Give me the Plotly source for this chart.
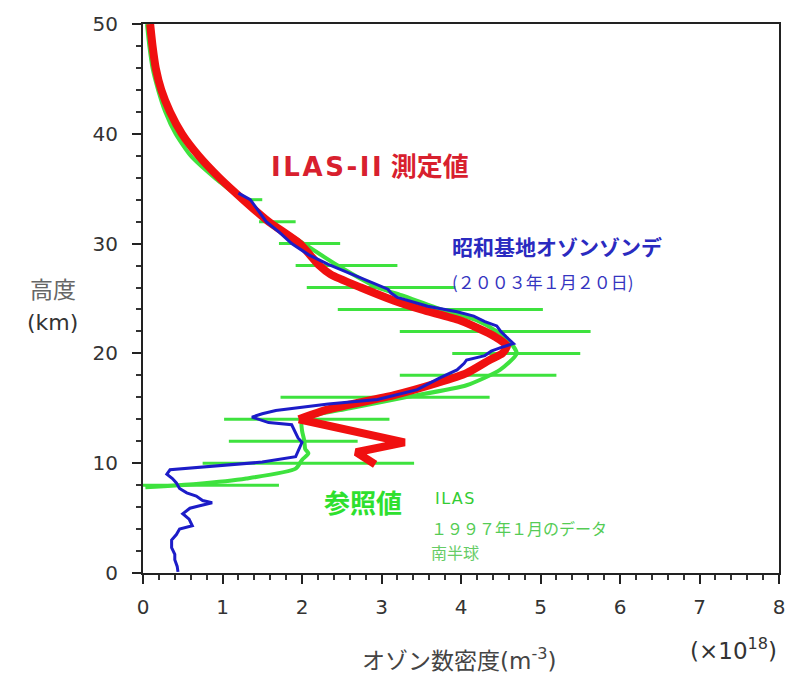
import plotly.graph_objects as go

# ---------------- data ----------------
# ILAS-II measured profile (x: 1e18 m^-3, y: km) - smooth upper part
red_alt = [50, 48, 46, 44, 42, 40, 38, 36, 34, 32, 30, 28, 27.2, 26, 24.8, 24, 23, 22, 21.5, 20.7, 20, 19.4,
           18.2, 17.3, 16.2, 14.9, 14.0]
red_val = [0.09, 0.12, 0.16, 0.23, 0.34, 0.49, 0.70, 0.96, 1.26, 1.58, 1.97, 2.22, 2.36, 2.74, 3.16, 3.5, 3.99,
           4.3, 4.43, 4.58, 4.52, 4.36, 4.07, 3.70, 3.16, 2.33, 1.96]
# ILAS-II lower zigzag
red_low_alt = [14.0, 11.9, 11.0, 9.9]
red_low_val = [1.96, 3.29, 2.68, 2.92]

# Syowa ozonesonde (2003-01-20)
blue_alt = [34.6, 34, 33, 32, 31, 30, 29, 28.1, 27, 26.2, 26.0, 25.85, 25.5, 25.1, 24.3, 23.8, 23.4, 22.9, 22.5,
            22.0, 21.5, 20.9, 20.5, 20.2, 19.8, 19.4, 19.1, 18.5, 17.8, 16.7, 15.8, 15.4, 14.8, 14.5, 14.2,
            13.7, 13.5, 12.8, 12.3, 11.9, 11.3, 10.6, 10.1, 9.7, 9.4, 9.0, 8.6, 8.2, 7.7, 7.3, 7.0, 6.6, 6.4,
            6.1, 5.9, 5.4, 4.9, 4.3, 4.0, 3.5, 3.0, 2.3, 1.7, 1.2, 0.6, 0.1]
blue_val = [1.20, 1.35, 1.45, 1.55, 1.72, 1.87, 2.08, 2.33, 2.70, 2.96, 3.02, 3.08, 3.12, 3.20, 3.58, 3.95,
            4.16, 4.30, 4.45, 4.50, 4.57, 4.66, 4.49, 4.38, 4.30, 4.07, 4.04, 3.95, 3.74, 3.45, 2.95, 2.33,
            1.67, 1.50, 1.37, 1.58, 1.87, 1.92, 1.95, 2.00, 1.96, 1.92, 1.50, 0.87, 0.34, 0.30, 0.37, 0.42,
            0.46, 0.55, 0.67, 0.75, 0.87, 0.70, 0.59, 0.50, 0.58, 0.62, 0.46, 0.42, 0.36, 0.36, 0.40, 0.40,
            0.43, 0.44]

# ILAS reference (1997-01, southern hemisphere)
green_alt = [50, 48, 46, 44, 42, 40, 38, 36, 34, 32, 30, 28, 26, 25.3, 24, 23, 22, 21, 20, 18.5, 17.1, 16,
             15, 14, 13, 12, 11.3, 10.9, 10.3, 9.5, 8.6, 8.1, 7.8]
green_val = [0.05, 0.08, 0.12, 0.19, 0.28, 0.41, 0.60, 0.90, 1.25, 1.60, 2.02, 2.45, 2.95, 3.25, 3.75, 4.20,
             4.45, 4.62, 4.70, 4.49, 4.07, 3.30, 2.60, 2.00, 2.00, 2.03, 2.04, 2.08, 2.00, 1.92, 1.30, 0.67, 0.03]

# reference uncertainty ranges
bar_alt = [34, 32, 30, 28, 26, 24, 22, 20, 18, 16, 14, 12, 10, 8]
bar_lo = [1.33, 1.46, 1.71, 1.92, 2.06, 2.45, 3.23, 3.89, 3.23, 1.73, 1.02, 1.08, 0.75, 0.0]
bar_hi = [1.50, 1.92, 2.48, 3.20, 3.93, 5.03, 5.63, 5.50, 5.20, 4.36, 3.10, 2.70, 3.41, 1.71]

x_ticks = [0, 1, 2, 3, 4, 5, 6, 7, 8]
y_ticks = [0, 10, 20, 30, 40, 50]

# ---------------- figure ----------------
GREEN = "#3ee23e"
RED = "#f01010"
BLUE = "#1c1cc8"
CJK = "Noto Sans CJK JP"
MIX = "DejaVu Sans, Noto Sans CJK JP"

bx, by = [], []
for a, lo, hi in zip(bar_alt, bar_lo, bar_hi):
    bx += [lo, hi, None]
    by += [a, a, None]

fig = go.Figure()
fig.add_trace(go.Scatter(x=bx, y=by, mode="lines", line=dict(color=GREEN, width=3), hoverinfo="skip"))
fig.add_trace(go.Scatter(x=green_val, y=green_alt, mode="lines",
                         line=dict(color=GREEN, width=4, shape="spline", smoothing=0.6)))
fig.add_trace(go.Scatter(x=red_val, y=red_alt, mode="lines",
                         line=dict(color=RED, width=8, shape="spline", smoothing=0.6)))
fig.add_trace(go.Scatter(x=red_low_val, y=red_low_alt, mode="lines", line=dict(color=RED, width=8)))
fig.add_trace(go.Scatter(x=blue_val, y=blue_alt, mode="lines", line=dict(color=BLUE, width=3)))

axis_common = dict(showgrid=False, zeroline=False, showline=True, linecolor="#222", linewidth=2,
                   mirror=True, ticks="outside", tickcolor="#222", tickwidth=2, ticklen=9,
                   tickfont=dict(family="DejaVu Sans", size=20, color="#333"))
fig.update_xaxes(range=[0, 8], tickvals=x_ticks, ticktext=[str(v) for v in x_ticks], ticklabelstandoff=6,
                 minor=dict(dtick=0.2, ticks="outside", ticklen=5, tickwidth=1.5, tickcolor="#333"),
                 **axis_common)
fig.update_yaxes(range=[0, 50], tickvals=y_ticks, ticktext=[str(v) for v in y_ticks], ticklabelstandoff=10,
                 minor=dict(dtick=2, ticks="outside", ticklen=5, tickwidth=1.5, tickcolor="#333"),
                 **axis_common)

ann = []
def add(text, x, y, size, color, xanchor="left", bold=False, family=CJK):
    t = f"<b>{text}</b>" if bold else text
    ann.append(dict(text=t, x=x, y=y, xref="paper", yref="paper", xanchor=xanchor, yanchor="middle",
                    showarrow=False, font=dict(family=family, size=size, color=color)))

W, H = 797, 678
L, R, T, B = 143, 12, 15, 105
pw, ph = W - L - R, H - T - B
def px(xp):
    return (xp - L) / pw
def py(yp):
    return (H - B - yp) / ph

hs = "\u200a"
add(hs.join("ILAS-II") + " 測定値", px(270), py(160), 26, "#d8202e", "left", True, MIX)
add("昭和基地オゾンゾンデ", px(453), py(241), 21, "#2a2ac0", "left", True)
add("(２００３年１月２０日)", px(453), py(277), 17, "#3535c0", "left", False)
add("参照値", px(324), py(500), 26, "#2ee02e", "left", True)
add(hs.join("ILAS"), px(436), py(497), 16, "#33cc33", "left", False, MIX)
add("１９９７年１月のデータ", px(432), py(527), 16, "#55cc55", "left", False)
add("南半球", px(432), py(552), 16, "#66cc66", "left", False)
add("高度", px(52), py(283), 23, "#666", "center")
add("(km)", px(52), py(318), 22, "#333", "center", False, "DejaVu Sans")
add("オゾン数密度(m<sup>-3</sup>)", px(462), py(660), 23, "#444", "center", False, MIX)
add("(×10<sup>18</sup>)", px(739), py(650), 23, "#333", "center", False, "DejaVu Sans")

fig.update_layout(width=W, height=H, margin=dict(l=L, r=R, t=T, b=B), showlegend=False,
                  paper_bgcolor="white", plot_bgcolor="white", annotations=ann)

fig.write_html("out.html")
